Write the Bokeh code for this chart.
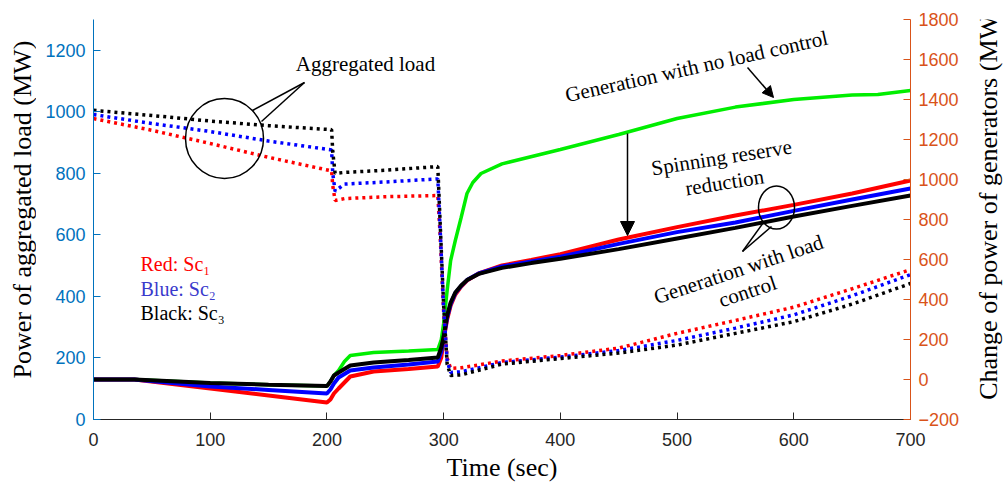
import math
from bokeh.plotting import figure
from bokeh.layouts import row
from bokeh.models import Range1d, LinearAxis, FixedTicker, Label, Arrow, NormalHead
from bokeh.embed import file_html
from bokeh.resources import INLINE

# ---------------- data ----------------
time_load = [0, 50, 100, 150, 204, 205, 207, 215, 250, 295, 297, 300, 303, 306, 315,
             350, 400, 450, 500, 550, 600, 650, 700]
load_sc1 = [978, 940, 897, 852, 808, 760, 712, 718, 724, 728, 600, 350, 200, 166, 168,
            190, 208, 232, 280, 322, 365, 425, 487]
load_sc2 = [991, 962, 936, 905, 876, 800, 742, 765, 772, 782, 620, 360, 190, 153, 155,
            185, 203, 224, 257, 297, 340, 402, 471]
load_sc3 = [1005, 988, 970, 955, 942, 870, 800, 803, 810, 822, 640, 370, 180, 143, 145,
            180, 198, 216, 242, 280, 318, 375, 442]

time_gen = [0, 35, 100, 150, 200, 203, 206, 210, 220, 240, 270, 295, 298, 300, 303, 306,
            310, 315, 320, 330, 350, 375, 400, 450, 500, 550, 600, 650, 700]
gen_sc1 = [0, 0, -45, -80, -115, -100, -70, -45, 15, 40, 52, 65, 110, 200, 300, 370,
           425, 465, 495, 530, 570, 598, 627, 700, 762, 820, 873, 930, 995]
gen_sc2 = [0, 0, -35, -52, -70, -50, -20, 10, 45, 60, 75, 90, 140, 205, 310, 378,
           432, 468, 497, 530, 565, 590, 614, 678, 737, 785, 843, 900, 955]
gen_sc3 = [0, 0, -18, -26, -33, -10, 20, 35, 70, 85, 98, 110, 160, 215, 320, 385,
           435, 470, 497, 528, 558, 582, 604, 652, 705, 758, 815, 868, 920]
time_nc = [0, 35, 100, 150, 200, 203, 206, 210, 215, 220, 240, 270, 295, 298, 300, 303,
           306, 310, 315, 320, 325, 332, 350, 400, 450, 500, 550, 600, 650, 672, 700]
gen_no_ctrl = [0, 0, -18, -26, -33, -10, 20, 45, 90, 120, 135, 142, 150, 200, 280, 445,
               595, 695, 810, 930, 985, 1030, 1078, 1150, 1225, 1305, 1362, 1400, 1422, 1425, 1445]

x_ticks = [0, 100, 200, 300, 400, 500, 600, 700]
left_ticks = [0, 200, 400, 600, 800, 1000, 1200]
right_ticks = [-200, 0, 200, 400, 600, 800, 1000, 1200, 1400, 1600, 1800]

SANS = "Liberation Sans"
SERIF = "Liberation Serif"

# ---------------- layout geometry (page pixels) ----------------
LEFT_W, RIGHT_W, H = 36, 34, 486
W = 1004 - LEFT_W - RIGHT_W
FRAME_L, FRAME_R, FRAME_T, FRAME_B = 93, 910, 19, 419
FL, FR, FT, FB = FRAME_L - LEFT_W, LEFT_W + W - FRAME_R, FRAME_T, H - FRAME_B

p = figure(width=W, height=H, x_range=Range1d(0, 700), y_range=Range1d(0, 1300),
           output_backend="svg", toolbar_location=None,
           min_border_left=FL, min_border_right=FR, min_border_top=FT, min_border_bottom=FB)
p.extra_y_ranges = {"gen": Range1d(-200, 1800)}
p.grid.visible = False
p.outline_line_color = None
p.background_fill_color = "white"
p.border_fill_color = "white"

def style_axis(ax, color, ticks):
    ax.ticker = FixedTicker(ticks=ticks)
    ax.axis_line_color = color
    ax.major_tick_line_color = color
    ax.minor_tick_line_color = None
    ax.major_tick_in = 7
    ax.major_tick_out = 0
    ax.major_label_text_color = color
    ax.major_label_text_font = SANS
    ax.major_label_text_font_size = "18px"
    ax.major_label_standoff = 8
    ax.axis_label_text_font = SERIF
    ax.axis_label_text_font_size = "26px"
    ax.axis_label_text_font_style = "normal"
    ax.axis_label_text_color = "black"

style_axis(p.xaxis[0], "#262626", x_ticks)
p.xaxis[0].axis_label = "Time (sec)"
p.xaxis[0].major_label_standoff = 13
p.xaxis[0].axis_label_standoff = 4

style_axis(p.yaxis[0], "#0072BD", left_ticks)

rax = LinearAxis(y_range_name="gen")
style_axis(rax, "#D95319", right_ticks)
p.add_layout(rax, "right")

# ---------------- lines ----------------
p.line(time_nc, gen_no_ctrl, y_range_name="gen", line_color="#00ee00", line_width=3.5)
p.line(time_gen, gen_sc1, y_range_name="gen", line_color="#ff0000", line_width=4)
p.line(time_gen, gen_sc2, y_range_name="gen", line_color="#0000ff", line_width=4)
p.line(time_gen, gen_sc3, y_range_name="gen", line_color="#000000", line_width=4)

p.line(time_load, load_sc1, line_color="#ff0000", line_width=3.5, line_dash="3 4")
p.line(time_load, load_sc2, line_color="#0000ff", line_width=3.5, line_dash="3 4")
p.line(time_load, load_sc3, line_color="#000000", line_width=3.5, line_dash="3 4")

# ---------------- annotations (placed by page pixel position) ----------------
def tx(px):
    return (px - FRAME_L) / (FRAME_R - FRAME_L) * 700.0

def ty(py):
    return (FRAME_B - py) / (FRAME_B - FRAME_T) * 1300.0

def add_text(txt, px, py, size="21px", angle_deg=0.0, color="black", align="center",
             baseline="middle"):
    p.add_layout(Label(x=tx(px), y=ty(py), text=txt, text_font=SERIF, text_font_size=size,
                       text_color=color, angle=math.radians(angle_deg),
                       text_align=align, text_baseline=baseline))

def add_seg(x0, y0, x1, y1, head=None, lw=1.5):
    p.add_layout(Arrow(x_start=tx(x0), y_start=ty(y0), x_end=tx(x1), y_end=ty(y1),
                       end=head, line_color="black", line_width=lw))

add_text("Aggregated load", 365, 63, baseline="alphabetic")
p.ellipse(x=[tx(224)], y=[ty(138)], width=78, height=80, width_units="screen",
          height_units="screen", fill_color=None, line_color="black", line_width=1.5)
add_seg(252, 110, 304, 82)
add_seg(261, 121, 304, 82)

add_text("Generation with no load control", 696, 66, angle_deg=12.5)
add_seg(747, 67, 773, 97, head=NormalHead(size=11, fill_color="black", line_color="black"))

add_text("Spinning reserve", 721, 157, angle_deg=9)
add_text("reduction", 724, 182, angle_deg=9)
add_seg(627, 133, 627, 235, head=NormalHead(size=14, fill_color="black", line_color="black"))

p.ellipse(x=[tx(776)], y=[ty(207)], width=36, height=43, width_units="screen",
          height_units="screen", fill_color=None, line_color="black", line_width=1.5)
add_seg(763, 222, 742, 251)
add_seg(771, 226, 742, 251)
add_text("Generation with load", 738, 269, angle_deg=18.5)
add_text("control", 747, 291, angle_deg=18.5)

add_text("Red: Sc\u2081", 140, 263, size="20px", color="#ff0000", align="left",
         baseline="alphabetic")
add_text("Blue: Sc\u2082", 140, 288, size="20px", color="#3a3acc", align="left",
         baseline="alphabetic")
add_text("Black: Sc\u2083", 140, 312, size="20px", color="#000000", align="left",
         baseline="alphabetic")

# ---------------- axis titles in narrow side figures ----------------
def side_title(width, text, cx, cy):
    f = figure(width=width, height=H, x_range=Range1d(0, width), y_range=Range1d(0, H),
               output_backend="svg", toolbar_location=None,
               x_axis_location=None, y_axis_location=None,
               min_border_left=0, min_border_right=0, min_border_top=0, min_border_bottom=0)
    f.grid.visible = False
    f.outline_line_color = None
    f.background_fill_color = "white"
    f.border_fill_color = "white"
    f.add_layout(Label(x=cx, y=H - cy, text=text, text_font=SERIF, text_font_size="26px",
                       text_color="black", angle=math.pi / 2, text_align="center",
                       text_baseline="middle"))
    return f

left_fig = side_title(LEFT_W, "Power of aggregated load (MW)", 22, 231)
right_fig = side_title(RIGHT_W, "Change of power of generators (MW)", 988 - LEFT_W - W, 223)

layout = row(left_fig, p, right_fig, spacing=0)
open("out.html", "w").write(file_html(layout, INLINE))
